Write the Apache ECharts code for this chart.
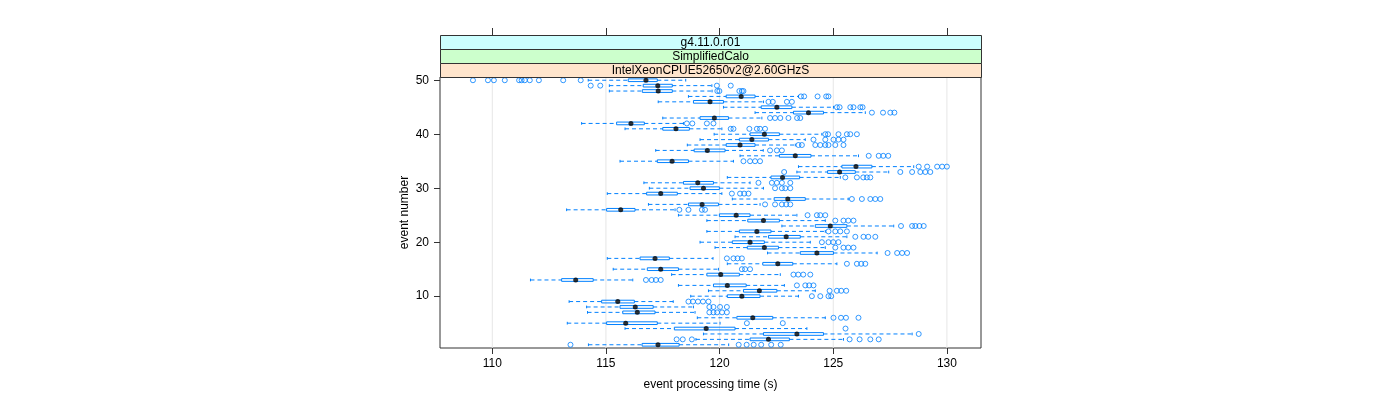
<!DOCTYPE html>
<html><head><meta charset="utf-8">
<script src="https://cdn.jsdelivr.net/npm/echarts@6/dist/echarts.min.js"></script>
<style>html,body{margin:0;padding:0;background:#fff}#c{width:1400px;height:400px}</style>
</head><body><div id="c"></div>
<script>
const eventNumbers = [1,2,3,4,5,6,7,8,9,10,11,12,13,14,15,16,17,18,19,20,21,22,23,24,25,26,27,28,29,30,31,32,33,34,35,36,37,38,39,40,41,42,43,44,45,46,47,48,49,50];
const whiskerLow = [114.23,118.96,119.29,115.84,113.30,119.02,114.19,114.15,113.38,118.73,119.51,118.19,111.68,117.89,115.32,120.34,115.06,122.11,119.80,119.14,120.68,119.44,122.74,119.44,118.19,113.27,116.87,120.56,115.06,116.91,116.67,120.34,123.40,123.47,115.62,120.90,117.19,118.58,119.14,119.76,115.84,113.93,117.50,121.56,120.17,117.30,118.63,115.15,115.15,114.22];
const lowerQuartile = [116.59,121.34,121.93,118.01,115.03,120.76,115.74,115.62,114.81,120.34,121.05,119.73,113.05,119.44,116.82,121.90,116.50,123.55,121.22,120.56,122.15,120.87,124.21,121.24,119.99,115.03,118.63,122.40,116.79,118.70,118.41,122.26,124.75,125.38,117.26,122.63,118.88,120.29,120.87,121.34,117.50,115.47,119.14,123.25,121.83,118.85,120.29,116.60,116.64,115.98];
const medianTime = [117.29,122.15,123.40,119.41,115.87,121.46,116.38,116.29,115.52,120.98,121.75,120.34,113.67,120.05,117.41,122.56,117.16,124.28,121.97,121.34,122.93,121.64,124.87,121.93,120.73,115.65,119.23,123.00,117.41,119.29,119.04,122.77,125.28,126.00,117.91,123.33,119.46,120.90,121.42,121.97,118.08,116.10,119.77,123.91,122.52,119.58,120.95,117.30,117.28,116.76];
const upperQuartile = [118.22,123.07,124.57,120.68,117.26,122.34,117.16,117.08,116.25,121.78,122.52,121.17,114.44,120.87,118.19,123.22,117.79,125.01,122.59,121.97,123.55,122.26,125.60,122.63,121.34,116.28,119.95,123.77,118.14,119.99,119.73,123.52,125.97,126.70,118.63,124.02,120.24,121.56,122.15,122.63,118.67,116.69,120.39,124.57,123.18,120.17,121.56,117.92,117.92,117.26];
const whiskerHigh = [120.40,125.45,128.47,123.84,120.02,124.65,118.92,118.85,117.96,123.47,124.21,122.85,116.18,122.67,119.95,125.16,119.71,126.93,124.65,123.99,125.60,124.65,127.66,124.65,123.40,118.04,121.78,125.66,120.10,121.93,121.34,125.31,127.44,128.54,120.61,126.11,121.92,123.33,123.77,124.50,120.10,118.41,121.86,126.41,125.01,121.93,123.47,119.67,119.66,118.51];
const outlierTimes = [
  [113.44,120.84,121.19,121.50,121.83,122.27,122.69],
  [118.11,118.38,118.78,125.72,126.16,126.63,127.0],
  [128.76],
  [125.54],
  [121.20,122.78],
  [125.01,125.34,125.56,126.11],
  [119.55,119.73,119.89,120.11,120.32],
  [119.55,119.73,120.02,120.32],
  [118.63,118.83,119.05,119.27,119.51],
  [124.06,124.43,124.79,124.91],
  [124.84,125.16,125.35,125.57],
  [123.40,123.77,123.94,124.13],
  [116.76,117.01,117.20,117.41],
  [123.25,123.46,123.68,123.99],
  [120.98,121.12,121.34],
  [125.60,126.04,126.23,126.41],
  [120.32,120.61,120.79,120.98],
  [127.39,127.81,128.03,128.25],
  [125.09,125.45,125.66,125.89],
  [124.50,124.79,125.0,125.23],
  [125.97,126.33,126.54,126.85],
  [124.79,125.09,125.31,125.60],
  [127.98,128.47,128.61,128.79,128.98],
  [125.09,125.45,125.66,125.89],
  [123.87,124.28,124.43,124.65],
  [118.23,118.63,119.22,119.36],
  [122.0,122.44,122.74,122.93,123.11],
  [125.82,126.26,126.63,126.85,127.07],
  [120.54,120.90,121.08,121.27],
  [122.44,122.74,122.89,123.11],
  [121.71,122.30,122.52,122.74,123.11],
  [125.53,126.04,126.32,126.48,126.63],
  [122.84,127.95,128.47,128.83,129.05,129.27],
  [128.76,129.13,129.57,129.79,130.0],
  [121.05,121.34,121.56,121.78],
  [126.56,127.00,127.20,127.42],
  [122.22,122.52,122.74],
  [123.47,123.62,124.21,124.43,124.65,124.79,125.09,125.45],
  [124.13,124.65,125.01,125.23,125.45],
  [124.65,124.77,125.23,125.60,125.75,126.04],
  [120.49,120.61,121.31,121.64,121.78,122.0],
  [118.56,118.80,119.44,119.73],
  [122.22,122.44,122.67,123.03,123.41,123.55],
  [126.70,127.19,127.51,127.69],
  [125.16,125.28,125.75,125.89,126.19,126.29],
  [122.15,122.34,122.96,123.18],
  [123.58,123.72,124.31,124.69,124.79],
  [119.90,119.99,120.87,120.98,121.05],
  [114.33,114.75,119.88,120.49],
  [109.15,109.81,110.07,110.55,111.18,111.29,111.43,111.65,112.05,113.12,113.89]
];
const xTickValues = [110,115,120,125,130];
const yTickValues = [10,20,30,40,50];
const stripLabels = ['g4.11.0.r01','SimplifiedCalo','IntelXeonCPUE52650v2@2.60GHzS'];
const stripColors = ['#ccffff','#ccffcc','#ffe5cc'];
const xLabel = 'event processing time (s)';
const yLabel = 'event number';

const X_MIN = 107.7, X_MAX = 131.5, Y_MIN = 0.4, Y_MAX = 50.6;
const GL = 440, GT = 77, GW = 541, GH = 271;
const BLUE = '#0080ff';
const FONT = '"Liberation Sans", Arial, Helvetica, sans-serif';

const boxData = eventNumbers.map((e, i) => [e, whiskerLow[i], lowerQuartile[i], medianTime[i], upperQuartile[i], whiskerHigh[i]]);
const medData = eventNumbers.map((e, i) => [medianTime[i], e]);
const outData = [];
outlierTimes.forEach((arr, i) => arr.forEach(v => outData.push([v, eventNumbers[i]])));

function renderBox(params, api) {
  const ev = api.value(0);
  const pLo = api.coord([api.value(1), ev]);
  const pA = api.coord([api.value(2), ev]);
  const pB = api.coord([api.value(4), ev]);
  const pHi = api.coord([api.value(5), ev]);
  const h = api.size([0, 0.5])[1];
  const y = pLo[1];
  const dash = {stroke: BLUE, lineWidth: 1, lineDash: [4, 3], fill: null};
  const solid = {stroke: BLUE, lineWidth: 1, fill: null};
  return {type: 'group', children: [
    {type: 'line', shape: {x1: pLo[0], y1: y, x2: pA[0], y2: y}, style: dash},
    {type: 'line', shape: {x1: pB[0], y1: y, x2: pHi[0], y2: y}, style: dash},
    {type: 'line', shape: {x1: pLo[0], y1: y - h / 2, x2: pLo[0], y2: y + h / 2}, style: solid},
    {type: 'line', shape: {x1: pHi[0], y1: y - h / 2, x2: pHi[0], y2: y + h / 2}, style: solid},
    {type: 'rect', shape: {x: pA[0], y: y - h / 2, width: pB[0] - pA[0], height: h}, style: {stroke: BLUE, lineWidth: 1, fill: 'rgba(0,0,0,0)'}}
  ]};
}
function renderGridLine(params, api) {
  const v = api.value(0);
  const p0 = api.coord([v, Y_MIN]);
  const p1 = api.coord([v, Y_MAX]);
  return {type: 'line', shape: {x1: p0[0], y1: p0[1], x2: p1[0], y2: p1[1]}, style: {stroke: '#e6e6e6', lineWidth: 1}};
}

const graphics = [];
stripLabels.forEach((t, i) => {
  graphics.push({type: 'rect', left: GL, top: 35 + i * 14, z: 10,
    shape: {x: 0, y: 0, width: GW, height: 14},
    style: {fill: stripColors[i], stroke: '#333', lineWidth: 1}});
  graphics.push({type: 'text', x: GL + GW / 2, y: 35 + i * 14 + 7.5, z: 11,
    style: {text: t, fill: '#000', font: '12px ' + FONT, textAlign: 'center', textVerticalAlign: 'middle'}});
});

const chart = echarts.init(document.getElementById('c'), null, {renderer: 'canvas'});
chart.setOption({
  animation: false,
  backgroundColor: '#fff',
  grid: {left: GL, top: GT, width: GW, height: GH, show: true, borderColor: '#333', borderWidth: 1, backgroundColor: 'rgba(0,0,0,0)'},
  xAxis: [{
    type: 'value', min: X_MIN, max: X_MAX, position: 'bottom',
    axisLine: {show: false},
    axisTick: {show: true, length: 6, customValues: xTickValues, lineStyle: {color: '#333'}},
    axisLabel: {customValues: xTickValues, margin: 10, fontSize: 12, color: '#000', fontFamily: FONT},
    splitLine: {show: false},
    name: xLabel, nameLocation: 'middle', nameGap: 31,
    nameTextStyle: {fontSize: 12, color: '#000', fontFamily: FONT}
  }, {
    type: 'value', min: X_MIN, max: X_MAX, position: 'top', offset: 42,
    axisLine: {show: false},
    axisTick: {show: true, length: 7, customValues: xTickValues, lineStyle: {color: '#333'}},
    axisLabel: {show: false},
    splitLine: {show: false}
  }],
  yAxis: {
    type: 'value', min: Y_MIN, max: Y_MAX,
    axisLine: {show: false},
    axisTick: {show: true, length: 6, customValues: yTickValues, lineStyle: {color: '#333'}},
    axisLabel: {customValues: yTickValues, margin: 11, fontSize: 12, color: '#000', fontFamily: FONT},
    splitLine: {show: false},
    name: yLabel, nameLocation: 'middle', nameGap: 29, nameRotate: 90,
    nameTextStyle: {fontSize: 12, color: '#000', fontFamily: FONT}
  },
  graphic: graphics,
  series: [
    {type: 'custom', name: 'grid', renderItem: renderGridLine, data: xTickValues.map(v => [v]), z: 1, silent: true},
    {type: 'custom', name: 'boxes', renderItem: renderBox, data: boxData, z: 2, encode: {x: [1, 5], y: 0}},
    {type: 'scatter', name: 'outliers', data: outData, symbol: 'circle', symbolSize: 5, z: 3,
      itemStyle: {color: 'rgba(0,0,0,0)', borderColor: BLUE, borderWidth: 1}},
    {type: 'scatter', name: 'median', data: medData, symbol: 'circle', symbolSize: 5, z: 4,
      itemStyle: {color: '#000'}}
  ]
});
</script></body></html>
